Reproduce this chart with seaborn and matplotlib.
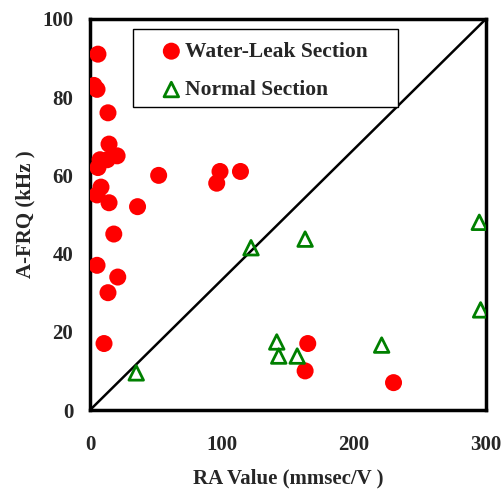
import numpy as np
import pandas as pd
import matplotlib
matplotlib.use('Agg')
import matplotlib.pyplot as plt
from matplotlib.patches import Rectangle
import seaborn as sns

# ============================================================
# Data
# ============================================================
leak_ra  = [6, 3, 5.3, 13.6, 14.4, 20.5, 13, 7.6, 6, 8.3, 5.3, 14.4,
            36, 52, 98.5, 96, 114, 18, 5.3, 21, 13.6, 10.6, 165, 163, 230]
leak_frq = [91, 83, 82, 76, 68, 65, 64, 64, 62, 57, 55, 53,
            52, 60, 61, 58, 61, 45, 37, 34, 30, 17, 17, 10, 7]

normal_ra  = [35, 122, 163, 295, 296, 141.5, 143, 157, 221]
normal_frq = [9.5, 41.5, 43.7, 48, 25.6, 17.4, 13.8, 13.8, 16.6]

x_ticks = [0, 100, 200, 300]
y_ticks = [0, 20, 40, 60, 80, 100]

leak_df = pd.DataFrame({'ra': leak_ra, 'frq': leak_frq})
normal_df = pd.DataFrame({'ra': normal_ra, 'frq': normal_frq})

sns.set_style('white')
plt.rcParams['font.family'] = ['Liberation Serif', 'DejaVu Serif']
plt.rcParams['font.weight'] = 'bold'

fig = plt.figure(figsize=(5.03, 4.95), dpi=100)
ax = fig.add_axes([0.179, 0.1717, 0.787, 0.79])

# 1:1 reference line (RA/3 = FRQ)
ax.plot([0, 300], [0, 100], color='black', linewidth=1.8, zorder=1)

sns.scatterplot(data=leak_df, x='ra', y='frq', ax=ax, marker='o',
                s=150, color='#ff0000', edgecolor='none',
                label='Water-Leak Section', zorder=3)
sns.scatterplot(data=normal_df, x='ra', y='frq', ax=ax, marker='^',
                s=110, facecolor='none', edgecolor='#008000',
                linewidth=2, label='Normal Section', zorder=3)

ax.set_xlim(0, 300)
ax.set_ylim(0, 100)
ax.set_xticks(x_ticks)
ax.set_yticks(y_ticks)
ax.tick_params(axis='both', direction='in', length=5, width=1,
               color='#777777', labelsize=15)
ax.tick_params(axis='x', pad=18)
ax.tick_params(axis='y', pad=12)
for lbl in ax.get_xticklabels() + ax.get_yticklabels():
    lbl.set_fontweight('bold')

for sp in ax.spines.values():
    sp.set_linewidth(2.5)
    sp.set_color('black')

ax.set_xlabel('RA Value (mmsec/V )', fontsize=15, fontweight='bold',
              labelpad=10)
ax.set_ylabel('A-FRQ (kHz )', fontsize=15, fontweight='bold',
              labelpad=5)

# legend frame drawn as a plain box, legend entries centred in it
box = Rectangle((0.1086, 0.775), 0.6694, 0.199, transform=ax.transAxes,
                facecolor='white', edgecolor='black', linewidth=1,
                zorder=4)
ax.add_patch(box)
leg = ax.legend(loc='center', bbox_to_anchor=(0.443, 0.867),
                fontsize=15.5, frameon=False, borderpad=0,
                handletextpad=0.25, labelspacing=0.85, handlelength=0.8)
leg.set_zorder(5)
for t in leg.get_texts():
    t.set_fontweight('bold')

plt.savefig('out.png', dpi=100)
plt.close()
